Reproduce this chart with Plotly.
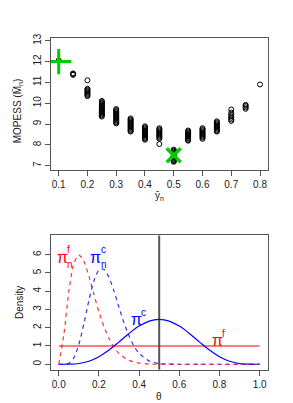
import plotly.graph_objects as go

# ---------------- data: top panel ----------------
ybar_groups = [0.1, 0.15, 0.2, 0.25, 0.3, 0.35, 0.4, 0.45, 0.5, 0.55, 0.6, 0.65, 0.7, 0.75, 0.8]
mopess_values = [
    [12.05],
    [11.36, 11.40, 11.43],
    [11.10, 10.69, 10.64, 10.59, 10.54, 10.49, 10.44, 10.39, 10.34],
    [10.11, 10.06, 10.01, 9.96, 9.91, 9.86, 9.81, 9.76, 9.71, 9.66, 9.61, 9.56, 9.51, 9.46, 9.41, 9.36],
    [9.72, 9.67, 9.62, 9.57, 9.52, 9.47, 9.42, 9.37, 9.32, 9.27, 9.22, 9.17, 9.12, 9.07, 9.03],
    [9.27, 9.22, 9.17, 9.12, 9.07, 9.02, 8.97, 8.92, 8.87, 8.82, 8.77, 8.72, 8.67, 8.64],
    [8.89, 8.84, 8.79, 8.74, 8.69, 8.64, 8.59, 8.54, 8.49, 8.44, 8.39, 8.34, 8.29, 8.25],
    [8.80, 8.75, 8.70, 8.65, 8.60, 8.55, 8.50, 8.45, 8.40, 8.35, 8.30, 8.04],
    [7.77, 7.72, 7.67, 7.62, 7.57, 7.52, 7.47, 7.42, 7.37, 7.32, 7.27, 7.22, 7.19],
    [8.69, 8.64, 8.59, 8.54, 8.49, 8.44, 8.39, 8.34, 8.29, 8.24, 8.20],
    [8.80, 8.75, 8.70, 8.65, 8.60, 8.55, 8.50, 8.45, 8.40, 8.35, 8.29],
    [9.13, 9.08, 9.03, 8.98, 8.93, 8.88, 8.83, 8.78, 8.73, 8.68, 8.64],
    [9.70, 9.55, 9.45, 9.38, 9.30, 9.22, 9.15],
    [9.92, 9.87, 9.80, 9.73],
    [10.90],
]
plus_point = [0.1, 12.0]
cross_point = [0.5, 7.5]
top_xticks = [0.1, 0.2, 0.3, 0.4, 0.5, 0.6, 0.7, 0.8]
top_yticks = [7, 8, 9, 10, 11, 12, 13]

# ---------------- data: bottom panel ----------------
theta_nf = [0, 0.025, 0.05, 0.075, 0.1, 0.125, 0.15, 0.175, 0.2, 0.225, 0.25, 0.275,
            0.3, 0.35, 0.4, 0.45, 0.5, 0.6, 0.7, 0.8, 0.9, 1.0]
dens_nf = [0, 1.58, 3.96, 5.52, 5.99, 5.64, 4.82, 3.83, 2.87, 2.05, 1.41, 0.92,
           0.58, 0.21, 0.065, 0.017, 0.004, 0, 0, 0, 0, 0]
theta_nc = [0, 0.025, 0.05, 0.075, 0.1, 0.125, 0.15, 0.175, 0.2, 0.225, 0.25, 0.275, 0.3,
            0.325, 0.35, 0.375, 0.4, 0.45, 0.5, 0.55, 0.6, 0.7, 0.8, 0.9, 1.0]
dens_nc = [0, 0.002, 0.055, 0.35, 1.08, 2.21, 3.49, 4.56, 5.16, 5.20, 4.76, 4.00, 3.11,
           2.26, 1.54, 0.98, 0.59, 0.18, 0.04, 0.007, 0, 0, 0, 0, 0]
theta_c = [0, 0.05, 0.1, 0.15, 0.2, 0.25, 0.3, 0.35, 0.4, 0.45, 0.5,
           0.55, 0.6, 0.65, 0.7, 0.75, 0.8, 0.85, 0.9, 0.95, 1.0]
dens_c = [0, 0.003, 0.041, 0.167, 0.413, 0.779, 1.225, 1.688, 2.090, 2.364, 2.461,
          2.364, 2.090, 1.688, 1.225, 0.779, 0.413, 0.167, 0.041, 0.003, 0]
theta_f = [0, 1]
dens_f = [1, 1]
true_theta = 0.5
bot_xticks = [0, 0.2, 0.4, 0.6, 0.8, 1.0]
bot_xlabels = ["0.0", "0.2", "0.4", "0.6", "0.8", "1.0"]
bot_yticks = [0, 1, 2, 3, 4, 5, 6]

FONT = "Liberation Sans, Arial, Helvetica, sans-serif"
GREEN = "#00CC00"
RED = "#FF0000"
BLUE = "#0000FF"

# page has an 8px body margin: figure is placed at (8, 8)
OFF = 8
W, H = 293 - OFF, 403 - OFF

def dom_x(p0, p1):
    return [(p0 - OFF) / W, (p1 - OFF) / W]

def dom_y(top, bottom):
    return [1 - (bottom - OFF) / H, 1 - (top - OFF) / H]

fig = go.Figure()

# top scatter
xs, ys = [], []
for xv, vals in zip(ybar_groups, mopess_values):
    for v in vals:
        xs.append(xv)
        ys.append(v)
fig.add_trace(go.Scatter(x=xs, y=ys, mode="markers", xaxis="x", yaxis="y",
                         marker=dict(symbol="circle-open", size=5, color="black",
                                     line=dict(width=1, color="black")),
                         showlegend=False, hoverinfo="skip"))
fig.add_trace(go.Scatter(x=[plus_point[0]], y=[plus_point[1]], mode="markers", xaxis="x", yaxis="y",
                         marker=dict(symbol="cross-thin", size=18, color=GREEN,
                                     line=dict(width=3, color=GREEN)),
                         showlegend=False, hoverinfo="skip"))
fig.add_trace(go.Scatter(x=[cross_point[0]], y=[cross_point[1]], mode="markers", xaxis="x", yaxis="y",
                         marker=dict(symbol="x-thin", size=14, color=GREEN,
                                     line=dict(width=3.5, color=GREEN)),
                         showlegend=False, hoverinfo="skip"))

# bottom curves
fig.add_trace(go.Scatter(x=[true_theta, true_theta], y=[-0.3, 7.1], mode="lines", xaxis="x2", yaxis="y2",
                         line=dict(color="#555555", width=2), showlegend=False, hoverinfo="skip"))
fig.add_trace(go.Scatter(x=theta_f, y=dens_f, mode="lines", xaxis="x2", yaxis="y2",
                         line=dict(color=RED, width=1.2), showlegend=False, hoverinfo="skip"))
fig.add_trace(go.Scatter(x=theta_c, y=dens_c, mode="lines", xaxis="x2", yaxis="y2",
                         line=dict(color=BLUE, width=1.2, shape="spline"), showlegend=False, hoverinfo="skip"))
fig.add_trace(go.Scatter(x=theta_nc, y=dens_nc, mode="lines", xaxis="x2", yaxis="y2",
                         line=dict(color=BLUE, width=1.2, dash="4px,4px", shape="spline", smoothing=0.6),
                         opacity=0.8, showlegend=False, hoverinfo="skip"))
fig.add_trace(go.Scatter(x=theta_nf, y=dens_nf, mode="lines", xaxis="x2", yaxis="y2",
                         line=dict(color=RED, width=1.2, dash="4px,4px", shape="spline", smoothing=0.6),
                         opacity=0.8, showlegend=False, hoverinfo="skip"))

axis_common = dict(showgrid=False, zeroline=False, showline=True, linecolor="#555555", linewidth=1,
                   mirror=True, ticks="outside", ticklen=5, tickwidth=1, tickcolor="#555555",
                   tickfont=dict(family=FONT, size=10, color="#222222"))

fig.update_layout(
    width=W, height=H, margin=dict(l=0, r=0, t=0, b=0),
    paper_bgcolor="white", plot_bgcolor="white", showlegend=False,
    xaxis=dict(domain=dom_x(50.7, 267.7), range=[0.0722, 0.8267], anchor="y",
               tickvals=top_xticks, ticktext=[f"{v:.1f}" for v in top_xticks], **axis_common),
    yaxis=dict(domain=dom_y(33.3, 166.7), range=[6.81, 13.13], anchor="x",
               tickvals=top_yticks, tickangle=-90, **axis_common),
    xaxis2=dict(domain=dom_x(50.7, 267.7), range=[-0.04, 1.04], anchor="y2",
                tickvals=bot_xticks, ticktext=bot_xlabels, **axis_common),
    yaxis2=dict(domain=dom_y(233.3, 369.3), range=[-0.30, 7.05], anchor="x2",
                tickvals=bot_yticks, tickangle=-90, **axis_common),
)

annots = []
def add_text(text, px, py, size, color="#222222", angle=0):
    annots.append(dict(text=text, x=(px - OFF) / W, y=1 - (py - OFF) / H, xref="paper", yref="paper",
                       showarrow=False, xanchor="center", yanchor="middle", textangle=angle,
                       borderpad=0, font=dict(family=FONT, size=size, color=color)))

# axis titles
add_text("MOPESS (M\u0304<sub>n</sub>)", 18, 107.5, 10, angle=-90)
add_text("y\u0304<sub>n</sub>", 159.2, 193, 10)
add_text("Density", 20, 301.7, 10, angle=-90)
add_text("\u03b8", 159.2, 396, 10)

# curve labels
def add_data_text(text, xd, yd, size, color):
    annots.append(dict(text=text, x=xd, y=yd, xref="x2", yref="y2", showarrow=False,
                       xanchor="center", yanchor="middle", borderpad=0,
                       font=dict(family=FONT, size=size, color=color)))

add_data_text("\u03c0", 0.020, 5.83, 16, RED)
add_data_text("f", 0.048, 6.30, 10, RED)
add_data_text("n", 0.057, 5.44, 10, RED)
add_data_text("\u03c0", 0.185, 5.82, 16, BLUE)
add_data_text("c", 0.221, 6.27, 10, BLUE)
add_data_text("n", 0.223, 5.46, 10, BLUE)
add_data_text("\u03c0", 0.387, 2.45, 16, BLUE)
add_data_text("c", 0.422, 2.84, 10, BLUE)
add_data_text("\u03c0", 0.790, 1.28, 16, RED)
add_data_text("f", 0.819, 1.70, 10, RED)

fig.update_layout(annotations=annots)
fig.write_html("out.html")
